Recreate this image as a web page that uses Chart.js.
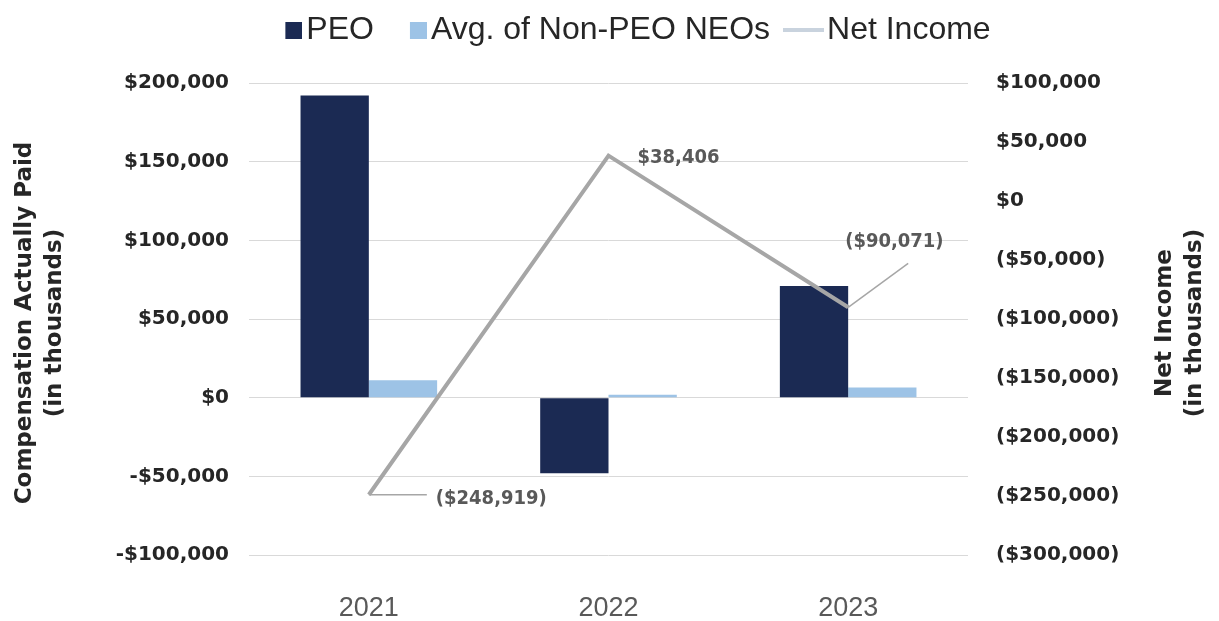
<!DOCTYPE html>
<html>
<head>
<meta charset="utf-8">
<script src="https://cdn.jsdelivr.net/npm/chart.js@4.4.1/dist/chart.umd.min.js"></script>
<style>
  html, body { margin: 0; padding: 0; background: #fff; }
  #wrap { width: 1219px; height: 621px; }
</style>
</head>
<body>
<div id="wrap"><canvas id="chart"></canvas></div>
<script>
// Chart data
const years = ['2021', '2022', '2023'];
const peo = [192000, -48000, 71000];
const nonPeo = [11000, 1900, 6500];
const netIncome = [-248919, 38406, -90071];

// where the net income labels sit, relative to each point
const labelSpots = [
  { dx: 67, dy: 4, lead: [58, 0] },
  { dx: 29, dy: 2, lead: null },
  { dx: -3, dy: -65, lead: [60, -44] }
];

const colors = ['#1B2A53', '#9DC3E6', '#A6A6A6'];

const money = v => '$' + Math.abs(v).toLocaleString('en-US');
const leftFmt = v => (v < 0 ? '-' : '') + money(v);
const rightFmt = v => v < 0 ? '(' + money(v) + ')' : money(v);

Chart.defaults.font.family = '"Liberation Sans", Arial, sans-serif';

// legend markers (drawn toward the right so they sit close to the text)
function marker(w, h, fillW, color) {
  const c = document.createElement('canvas');
  c.width = w;
  c.height = h;
  const g = c.getContext('2d');
  g.fillStyle = color;
  g.fillRect(w - fillW, 0, fillW, h);
  return c;
}
const legendMarks = [
  marker(39, 17, 17, colors[0]),
  marker(39, 17, 17, colors[1]),
  marker(41, 4, 41, '#C9D3DE')
];

const netLabels = {
  id: 'netLabels',
  afterDatasetsDraw(chart) {
    const ctx = chart.ctx;
    const meta = chart.getDatasetMeta(2);
    ctx.save();
    meta.data.forEach((pt, i) => {
      const spot = labelSpots[i];
      if (spot.lead) {
        ctx.strokeStyle = '#A6A6A6';
        ctx.lineWidth = 1.5;
        ctx.beginPath();
        ctx.moveTo(pt.x, pt.y);
        ctx.lineTo(pt.x + spot.lead[0], pt.y + spot.lead[1]);
        ctx.stroke();
      }
      ctx.fillStyle = '#595959';
      ctx.font = 'bold 20px "DejaVu Sans Condensed", "DejaVu Sans", Arial';
      ctx.textAlign = 'left';
      ctx.textBaseline = 'middle';
      ctx.fillText(rightFmt(netIncome[i]), pt.x + spot.dx, pt.y + spot.dy);
    });
    ctx.restore();
  }
};

const axisTitles = {
  id: 'axisTitles',
  afterDraw(chart) {
    const ctx = chart.ctx;
    const area = chart.chartArea;
    const cy = (area.top + area.bottom) / 2 + 4;
    ctx.save();
    ctx.fillStyle = '#262626';
    ctx.font = 'bold 23px "DejaVu Sans", sans-serif';
    ctx.textAlign = 'center';
    ctx.textBaseline = 'middle';
    const put = (text, x) => {
      ctx.save();
      ctx.translate(x, cy);
      ctx.rotate(-Math.PI / 2);
      ctx.fillText(text, 0, 0);
      ctx.restore();
    };
    put('Compensation Actually Paid', 25);
    put('(in thousands)', 55);
    put('Net Income', 1165);
    put('(in thousands)', 1195);
    ctx.restore();
  }
};

new Chart(document.getElementById('chart'), {
  type: 'bar',
  data: {
    labels: years,
    datasets: [
      {
        label: 'PEO',
        data: peo,
        backgroundColor: colors[0],
        yAxisID: 'y',
        order: 2
      },
      {
        label: 'Avg. of Non-PEO NEOs',
        data: nonPeo,
        backgroundColor: colors[1],
        yAxisID: 'y',
        order: 2
      },
      {
        type: 'line',
        label: 'Net Income',
        data: netIncome,
        borderColor: colors[2],
        backgroundColor: colors[2],
        borderWidth: 4,
        pointRadius: 0,
        tension: 0,
        yAxisID: 'y1',
        order: 1
      }
    ]
  },
  options: {
    responsive: true,
    maintainAspectRatio: false,
    animation: false,
    categoryPercentage: 0.57,
    barPercentage: 1,
    layout: { padding: { top: -12, bottom: 0, left: 47, right: 0 } },
    plugins: {
      legend: {
        position: 'top',
        labels: {
          color: '#262626',
          font: { size: 32 },
          padding: 26,
          boxWidth: 15,
          boxHeight: 8,
          usePointStyle: true,
          generateLabels(chart) {
            const items = Chart.defaults.plugins.legend.labels.generateLabels(chart);
            items.sort((a, b) => a.datasetIndex - b.datasetIndex);
            items.forEach(it => {
              it.pointStyle = legendMarks[it.datasetIndex];
            });
            return items;
          }
        }
      },
      // empty title used as a spacer between legend and plot
      title: {
        display: true,
        text: ' ',
        weight: 500,
        font: { size: 10 },
        padding: { top: 0, bottom: 15 }
      },
      tooltip: { enabled: false }
    },
    scales: {
      x: {
        grid: { display: false },
        border: { display: false },
        ticks: { color: '#595959', font: { size: 27 }, padding: 29 },
        afterFit(scale) { scale.height = 66; }
      },
      y: {
        position: 'left',
        min: -100000,
        max: 200000,
        ticks: {
          stepSize: 50000,
          color: '#262626',
          font: { size: 20, weight: 'bold', family: '"DejaVu Sans", sans-serif' },
          padding: 20,
          callback: v => leftFmt(v)
        },
        grid: { color: '#D9D9D9', lineWidth: 1, drawTicks: false },
        border: { display: false },
        afterFit(scale) { scale.width = 202; }
      },
      y1: {
        position: 'right',
        min: -300000,
        max: 100000,
        ticks: {
          stepSize: 50000,
          color: '#262626',
          font: { size: 20, weight: 'bold', family: '"DejaVu Sans", sans-serif' },
          padding: 28,
          callback: v => rightFmt(v)
        },
        grid: { display: false, drawTicks: false },
        border: { display: false },
        afterFit(scale) { scale.width = 251; }
      }
    }
  },
  plugins: [netLabels, axisTitles]
});
</script>
</body>
</html>
